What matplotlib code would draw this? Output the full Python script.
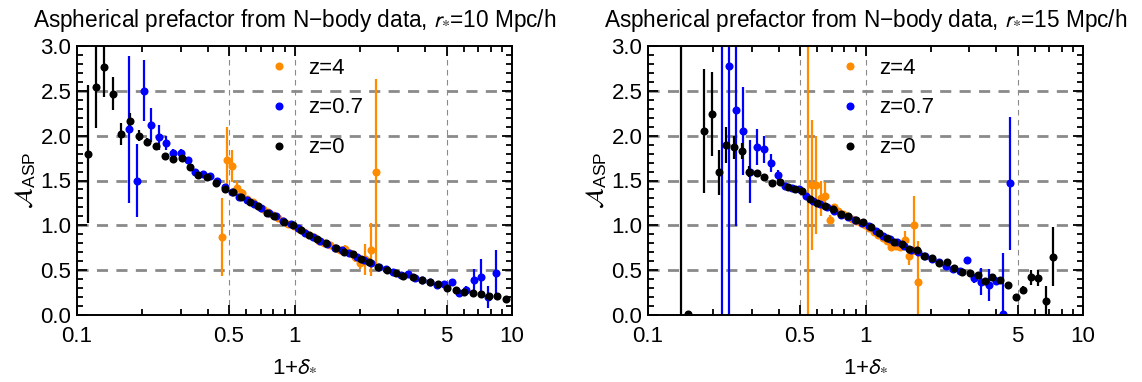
import numpy as np
import matplotlib
matplotlib.use("Agg")
import matplotlib.pyplot as plt
from matplotlib.lines import Line2D
from matplotlib.ticker import FixedLocator, FixedFormatter, NullFormatter

plt.rcParams['font.family'] = ['Liberation Sans', 'DejaVu Sans']
plt.rcParams['mathtext.fontset'] = 'stixsans'

# ---- r* = 10 Mpc/h ----
x_z0_r10 = [0.1127, 0.1223, 0.1335, 0.1469, 0.1593, 0.1758, 0.1922, 0.2104, 0.2300, 0.2539,
            0.2772, 0.3030, 0.3308, 0.3612, 0.3948, 0.4342, 0.4792, 0.5232, 0.5675, 0.6242,
            0.6818, 0.7499, 0.8073, 0.8976, 0.981, 1.071, 1.166, 1.273, 1.396, 1.551,
            1.694, 1.864, 2.022, 2.208, 2.413, 2.654, 2.920, 3.163, 3.494, 3.843,
            4.198, 4.583, 5.009, 5.527, 6.036, 6.597, 7.180, 7.864, 8.504, 9.385]
y_z0_r10 = [1.80, 2.54, 2.77, 2.47, 2.02, 2.16, 2.00, 1.93, 1.88, 1.77,
            1.74, 1.75, 1.65, 1.56, 1.54, 1.47, 1.41, 1.375, 1.32, 1.26,
            1.22, 1.14, 1.10, 1.04, 1.0, 0.95, 0.89, 0.845, 0.80, 0.745,
            0.705, 0.68, 0.63, 0.595, 0.54, 0.50, 0.465, 0.43, 0.42, 0.385,
            0.37, 0.345, 0.30, 0.28, 0.255, 0.24, 0.235, 0.215, 0.215, 0.175]
e_z0_r10 = [0.77, 0.46, 0.34, 0.18, 0.12, 0.09, 0.06, 0.045, 0.035, 0.03,
            0.03, 0.03, 0.025, 0.02, 0.02, 0.02, 0.02, 0.02, 0.015, 0.015,
            0.015, 0.015, 0.012, 0.012, 0.012, 0.012, 0.012, 0.012, 0.012, 0.012,
            0.012, 0.012, 0.012, 0.012, 0.012, 0.012, 0.012, 0.012, 0.012, 0.012,
            0.015, 0.015, 0.015, 0.02, 0.02, 0.02, 0.02, 0.025, 0.025, 0.03]

x_z07_r10 = [0.174, 0.188, 0.203, 0.2196, 0.2372, 0.2564, 0.2771, 0.2995, 0.3236, 0.3498,
             0.378, 0.4086, 0.4415, 0.4772, 0.5157, 0.5572, 0.6022, 0.6508, 0.7034, 0.7602,
             0.8215, 0.8878, 0.9592, 1.037, 1.120, 1.211, 1.308, 1.414, 1.528, 1.651,
             1.785, 1.929, 2.084, 2.252, 2.434, 2.630, 2.842, 3.072, 3.320, 3.587,
             3.877, 4.190, 4.528, 4.893, 5.288, 5.715, 6.176, 6.674, 7.213, 7.794, 8.423]
y_z07_r10 = [2.07, 1.50, 2.50, 2.12, 1.98, 1.92, 1.81, 1.81, 1.73, 1.60,
             1.57, 1.55, 1.49, 1.43, 1.37, 1.32, 1.28, 1.24, 1.19, 1.14,
             1.10, 1.05, 1.01, 0.97, 0.92, 0.87, 0.83, 0.79, 0.75, 0.72,
             0.69, 0.65, 0.61, 0.58, 0.54, 0.51, 0.48, 0.45, 0.46, 0.41,
             0.39, 0.37, 0.34, 0.35, 0.37, 0.24, 0.28, 0.39, 0.42, 0.20, 0.47]
e_z07_r10 = [0.82, 0.41, 0.34, 0.19, 0.14, 0.08, 0.04, 0.04, 0.03, 0.03,
             0.02, 0.02, 0.02, 0.02, 0.02, 0.02, 0.02, 0.02, 0.02, 0.02,
             0.015, 0.015, 0.015, 0.015, 0.015, 0.015, 0.015, 0.015, 0.015, 0.015,
             0.015, 0.015, 0.015, 0.015, 0.015, 0.015, 0.015, 0.015, 0.02, 0.02,
             0.02, 0.02, 0.02, 0.02, 0.03, 0.04, 0.045, 0.12, 0.20, 0.12, 0.26]

x_z4_r10 = [0.4631, 0.4891, 0.5164, 0.5452, 0.5756, 0.6076, 0.6415, 0.6773, 0.7150, 0.7551,
            0.7972, 0.8417, 0.8888, 0.9384, 0.9906, 1.046, 1.104, 1.166, 1.231, 1.300,
            1.372, 1.449, 1.530, 1.615, 1.705, 1.800, 1.901, 2.007, 2.119, 2.238, 2.363]
y_z4_r10 = [0.87, 1.73, 1.66, 1.42, 1.36, 1.29, 1.26, 1.22, 1.18, 1.15,
            1.11, 1.08, 1.05, 1.01, 0.99, 0.96, 0.93, 0.89, 0.87, 0.83,
            0.80, 0.78, 0.75, 0.72, 0.74, 0.69, 0.65, 0.58, 0.62, 0.73, 1.59]
e_z4_r10 = [0.44, 0.37, 0.18, 0.08, 0.05, 0.03, 0.02, 0.02, 0.02, 0.02,
            0.02, 0.02, 0.02, 0.02, 0.02, 0.02, 0.02, 0.02, 0.02, 0.02,
            0.02, 0.02, 0.025, 0.03, 0.04, 0.04, 0.06, 0.07, 0.17, 0.30, 1.04]

# ---- r* = 15 Mpc/h ----
x_z0_r15 = [0.1413, 0.1529, 0.1815, 0.1963, 0.2114, 0.2284, 0.2485, 0.2697, 0.2921, 0.3161,
            0.3424, 0.3728, 0.4045, 0.4387, 0.4742, 0.5122, 0.5557, 0.6004, 0.6514, 0.7112,
            0.7693, 0.8335, 0.9014, 0.9770, 1.057, 1.154, 1.252, 1.356, 1.467, 1.590,
            1.720, 1.864, 2.022, 2.185, 2.362, 2.561, 2.787, 3.023, 3.281, 3.543,
            3.828, 4.153, 4.506, 4.905, 5.315, 5.767, 6.190, 6.737, 7.301]
y_z0_r15 = [-0.9, 0.01, 2.05, 2.24, 1.59, 1.90, 1.87, 1.83, 1.60, 1.58,
            1.54, 1.47, 1.48, 1.43, 1.41, 1.38, 1.29, 1.25, 1.22, 1.18,
            1.13, 1.10, 1.06, 1.04, 0.98, 0.92, 0.855, 0.81, 0.79, 0.74,
            0.725, 0.66, 0.64, 0.58, 0.59, 0.52, 0.48, 0.47, 0.45, 0.38,
            0.42, 0.39, 0.335, 0.20, 0.28, 0.42, 0.41, 0.16, 0.65]
e_z0_r15 = [4.5, 0.01, 0.69, 0.47, 0.25, 0.20, 0.13, 0.09, 0.06, 0.04,
            0.03, 0.03, 0.02, 0.02, 0.02, 0.02, 0.02, 0.02, 0.015, 0.015,
            0.015, 0.015, 0.015, 0.015, 0.015, 0.015, 0.015, 0.015, 0.015, 0.015,
            0.015, 0.015, 0.015, 0.015, 0.015, 0.015, 0.015, 0.015, 0.02, 0.02,
            0.025, 0.03, 0.03, 0.03, 0.04, 0.08, 0.09, 0.16, 0.33]

x_z07_r15 = [0.2183, 0.2350, 0.2532, 0.2728, 0.2938, 0.3165, 0.3408, 0.3671, 0.3955, 0.4260,
             0.4588, 0.4943, 0.5323, 0.5734, 0.6177, 0.6653, 0.7167, 0.7720, 0.8316, 0.8957,
             0.9649, 1.039, 1.120, 1.206, 1.299, 1.399, 1.507, 1.623, 1.749, 1.884,
             2.029, 2.186, 2.354, 2.536, 2.732, 2.943, 3.170, 3.414, 3.678, 3.962,
             4.267, 4.597]
y_z07_r15 = [-0.5, 2.78, 2.29, 2.05, 1.60, 1.87, 1.85, 1.69, 1.56, 1.44,
             1.42, 1.40, 1.33, 1.27, 1.24, 1.20, 1.16, 1.12, 1.09, 1.06,
             1.03, 0.99, 0.94, 0.88, 0.85, 0.81, 0.77, 0.73, 0.70, 0.66,
             0.62, 0.59, 0.55, 0.51, 0.49, 0.61, 0.41, 0.37, 0.335, 0.38,
             0.01, 1.47]
e_z07_r15 = [4.0, 3.5, 1.3, 0.49, 0.35, 0.20, 0.15, 0.10, 0.06, 0.03,
             0.025, 0.02, 0.02, 0.02, 0.02, 0.02, 0.02, 0.02, 0.02, 0.02,
             0.02, 0.015, 0.015, 0.015, 0.015, 0.015, 0.015, 0.015, 0.015, 0.015,
             0.015, 0.02, 0.02, 0.02, 0.02, 0.04, 0.05, 0.15, 0.18, 0.04,
             0.68, 0.74]

x_z4_r15 = [0.5413, 0.5669, 0.5943, 0.6226, 0.6526, 0.6837, 0.7165, 0.7511, 0.7869, 0.8246,
            0.8639, 0.9054, 0.9487, 0.9942, 1.042, 1.092, 1.144, 1.199, 1.256, 1.316,
            1.379, 1.445, 1.514, 1.587, 1.663, 1.743]
y_z4_r15 = [-0.5, 1.45, 1.45, 1.30, 1.33, 1.06, 1.20, 1.16, 1.13, 1.10,
            1.07, 1.05, 1.03, 1.00, 0.97, 0.93, 0.89, 0.86, 0.82, 0.76,
            0.77, 0.76, 0.84, 0.66, 1.00, 0.37]
e_z4_r15 = [4.0, 0.72, 0.55, 0.20, 0.15, 0.05, 0.03, 0.02, 0.02, 0.02,
            0.02, 0.02, 0.02, 0.02, 0.02, 0.02, 0.02, 0.025, 0.03, 0.03,
            0.03, 0.05, 0.10, 0.10, 0.33, 0.45]

labels = ['z=4', 'z=0.7', 'z=0']
colors = ['#ff8c00', '#0000ff', '#000000']

xmajor = [0.1, 0.5, 1, 5, 10]
xmajor_lbl = ['0.1', '0.5', '1', '5', '10']
xminor = [0.2, 0.3, 0.4, 0.6, 0.7, 0.8, 0.9, 2, 3, 4, 6, 7, 8, 9]
ymajor = [0.0, 0.5, 1.0, 1.5, 2.0, 2.5, 3.0]


def panel(ax, series, rstar):
    for y in [0.5, 1.0, 1.5, 2.0, 2.5]:
        ax.axhline(y, color='#8a8a8a', lw=2.0, dashes=(4, 3), zorder=0)
    for x in [0.5, 1, 5]:
        ax.axvline(x, color='#8a8a8a', lw=0.8, dashes=(5, 4), zorder=0)

    for (xs, ys, es), c in zip(series, colors):
        ax.errorbar(xs, ys, yerr=es, fmt='o', color=c, ms=5.8, mew=0,
                    elinewidth=1.6, capsize=2.8, capthick=1.6)

    ax.set_xscale('log')
    ax.set_xlim(0.1, 10)
    ax.set_ylim(0, 3)
    ax.xaxis.set_major_locator(FixedLocator(xmajor))
    ax.xaxis.set_major_formatter(FixedFormatter(xmajor_lbl))
    ax.xaxis.set_minor_locator(FixedLocator(xminor))
    ax.xaxis.set_minor_formatter(NullFormatter())
    ax.yaxis.set_major_locator(FixedLocator(ymajor))
    ax.yaxis.set_minor_locator(FixedLocator(np.arange(0.1, 3.0, 0.1)))
    ax.set_yticklabels(['%.1f' % v for v in ymajor])
    ax.tick_params(which='both', direction='in', top=True, right=True,
                   labelsize=16, width=1.3)
    ax.tick_params(axis='x', pad=8)
    ax.tick_params(axis='y', pad=4)
    ax.tick_params(which='major', length=7)
    ax.tick_params(which='minor', length=4.5)
    for s in ax.spines.values():
        s.set_linewidth(1.4)

    ax.set_title('Aspherical prefactor from N\u2212body data, $r_{*}$=%d Mpc/h' % rstar,
                 fontsize=16.3, pad=14)
    ax.set_xlabel('1+$\\delta_{*}$', fontsize=16, labelpad=6)
    ax.set_ylabel('$\\mathcal{A}_{\\mathregular{ASP}}$', fontsize=18, labelpad=2)

    handles = [Line2D([], [], ls='none', marker='o', ms=5.8, mew=0, color=c) for c in colors]
    ax.legend(handles, labels, loc='upper left', bbox_to_anchor=(0.42, 0.99),
              frameon=False, fontsize=16, labelspacing=0.85, handlelength=0.9,
              handletextpad=0.9, borderaxespad=0)


fig = plt.figure(figsize=(11.42, 3.82), dpi=100)
ax1 = fig.add_axes([77 / 1142, 67 / 382, 435 / 1142, 269 / 382])
ax2 = fig.add_axes([648 / 1142, 67 / 382, 435 / 1142, 269 / 382])

panel(ax1, [(x_z4_r10, y_z4_r10, e_z4_r10),
            (x_z07_r10, y_z07_r10, e_z07_r10),
            (x_z0_r10, y_z0_r10, e_z0_r10)], 10)
panel(ax2, [(x_z4_r15, y_z4_r15, e_z4_r15),
            (x_z07_r15, y_z07_r15, e_z07_r15),
            (x_z0_r15, y_z0_r15, e_z0_r15)], 15)

fig.savefig('out.png', dpi=100)
